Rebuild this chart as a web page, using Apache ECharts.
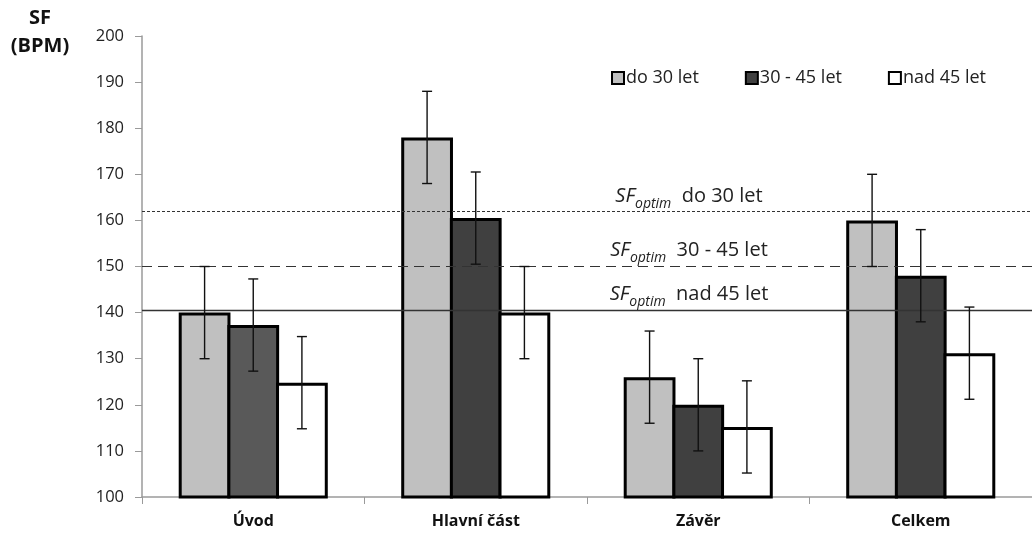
<!DOCTYPE html>
<html>
<head>
<meta charset="utf-8">
<script src="https://cdn.jsdelivr.net/npm/echarts@6/dist/echarts.min.js"></script>
<style>html,body{margin:0;padding:0;background:#fff;}#c{width:1032px;height:533px;}</style>
</head>
<body>
<div id="c"></div>
<script>
var categories = ['Úvod', 'Hlavní část', 'Závěr', 'Celkem'];
var seriesNames = ['do 30 let', '30 - 45 let', 'nad 45 let'];
var valsDo30 = [140, 178, 126, 160];
var vals30to45 = [137.3, 160.5, 120, 148];
var valsNad45 = [124.8, 140, 115.2, 131.2];
var errDo30 = [10, 10, 10, 10];
var err30to45 = [10, 10, 10, 10];
var errNad45 = [10, 10, 10, 10];
var optimVals = [162, 150, 140.5];
var optimLabels = ['do 30 let', '30 - 45 let', 'nad 45 let'];
var yTicks = [100, 110, 120, 130, 140, 150, 160, 170, 180, 190, 200];

var FONT = '"Open Sans", Lato, sans-serif';
var colors = ['#c0c0c0', '#404040', '#ffffff'];
var values = [valsDo30, vals30to45, valsNad45];
var errs = [errDo30, err30to45, errNad45];
var catGap = 0.33;
var gapFrac = -0.06;

var chart = echarts.init(document.getElementById('c'), null, {renderer: 'canvas'});

var series = [];
values.forEach(function (vals, si) {
  var s = {
    name: seriesNames[si],
    type: 'bar',
    barGap: (gapFrac * 100) + '%',
    barCategoryGap: (catGap * 100) + '%',
    itemStyle: {color: colors[si], borderColor: '#000', borderWidth: 3},
    data: vals.map(function (v, i) {
      var d = {value: v};
      if (si === 1 && i === 0) d.itemStyle = {color: '#595959'};
      return d;
    }),
    z: 2
  };
  if (si === 0) {
    var dashes = ['dotted', 'dashed', 'solid'];
    var offsY = [0, -1, -1];
    s.markLine = {
      silent: true,
      symbol: 'none',
      animation: false,
      data: optimVals.map(function (v, k) {
        return {
          yAxis: v,
          lineStyle: {color: '#333', width: dashes[k] === 'solid' ? 1.3 : 1.2, type: dashes[k] === 'dashed' ? [10, 6] : (dashes[k] === 'dotted' ? [3, 2] : 'solid')},
          label: {
            show: true,
            position: 'insideMiddleTop',
            offset: [102, offsY[k]],
            formatter: '{a|SF}{b|optim}{c|  ' + optimLabels[k] + '}',
            rich: {
              a: {fontFamily: FONT, fontStyle: 'italic', fontSize: 20, color: '#222', lineHeight: 26, verticalAlign: 'bottom'},
              b: {fontFamily: FONT, fontStyle: 'italic', fontSize: 14, color: '#222', lineHeight: 26, verticalAlign: 'bottom', padding: [0, 0, -5, 0]},
              c: {fontFamily: FONT, fontSize: 20, color: '#222', lineHeight: 26, verticalAlign: 'bottom'}
            }
          }
        };
      })
    };
  }
  series.push(s);
});

values.forEach(function (vals, si) {
  series.push({
    type: 'custom',
    name: 'err' + si,
    z: 5,
    silent: true,
    renderItem: function (params, api) {
      var ci = api.value(0);
      var v = api.value(1);
      var e = api.value(2);
      var band = api.size([1, 0])[0];
      var barW = band * (1 - catGap) / (3 + 2 * gapFrac);
      var step = barW * (1 + gapFrac);
      var cx = api.coord([ci, v])[0] + (si - 1) * step;
      var top = api.coord([ci, v + e])[1];
      var bot = api.coord([ci, v - e])[1];
      var cap = 5;
      var st = {stroke: '#111', lineWidth: 1.4};
      return {
        type: 'group',
        children: [
          {type: 'line', shape: {x1: cx, y1: top, x2: cx, y2: bot}, style: st},
          {type: 'line', shape: {x1: cx - cap, y1: top, x2: cx + cap, y2: top}, style: st},
          {type: 'line', shape: {x1: cx - cap, y1: bot, x2: cx + cap, y2: bot}, style: st}
        ]
      };
    },
    data: vals.map(function (v, i) { return [i, v, errs[si][i]]; })
  });
});

chart.setOption({
  animation: false,
  backgroundColor: '#fff',
  grid: {left: 142, right: 0, top: 36, bottom: 36, containLabel: false},
  legend: {
    data: seriesNames,
    left: 606,
    top: 64,
    icon: 'rect',
    itemWidth: 12,
    itemHeight: 12,
    itemGap: 46,
    textStyle: {fontFamily: FONT, fontSize: 18, color: '#222', padding: [0, 0, 0, -3]},
    itemStyle: {borderColor: '#000', borderWidth: 2}
  },
  graphic: [{
    type: 'text',
    x: 40,
    y: 4,
    style: {text: 'SF\n(BPM)', font: 'bold 20px ' + FONT, fill: '#111', textAlign: 'center', textVerticalAlign: 'top', lineHeight: 28}
  }],
  xAxis: {
    type: 'category',
    data: categories,
    axisLine: {lineStyle: {color: '#9a9a9a', width: 1.5}},
    axisTick: {show: true, length: 7, lineStyle: {color: '#9a9a9a'}},
    axisLabel: {fontFamily: FONT, fontSize: 16, fontWeight: 'bold', color: '#111', margin: 16}
  },
  yAxis: {
    type: 'value',
    min: yTicks[0],
    max: yTicks[yTicks.length - 1],
    interval: yTicks[1] - yTicks[0],
    axisLine: {show: true, lineStyle: {color: '#9a9a9a', width: 1.5}},
    axisTick: {show: true, length: 7, lineStyle: {color: '#9a9a9a'}},
    splitLine: {show: false},
    axisLabel: {fontFamily: FONT, fontSize: 16.5, color: '#222', margin: 18}
  },
  series: series
});
</script>
</body>
</html>
